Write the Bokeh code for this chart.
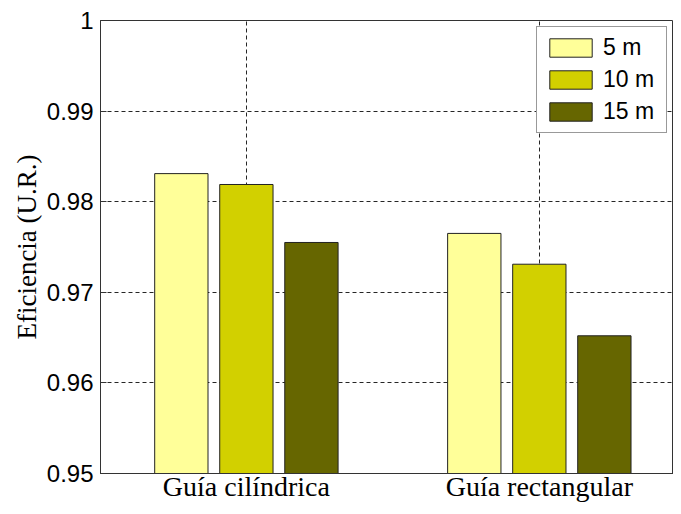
from bokeh.plotting import figure
from bokeh.models import FixedTicker, Legend, LegendItem, Range1d
from bokeh.embed import file_html
from bokeh.resources import INLINE

# ---- data ----
categories = ["Guía cilíndrica", "Guía rectangular"]
series_names = ["5 m", "10 m", "15 m"]
values_5m = [0.9831, 0.9765]
values_10m = [0.9819, 0.9731]
values_15m = [0.9755, 0.9652]
series_colors = ["#FFFF99", "#D2D000", "#666600"]
y_ticks = [0.95, 0.96, 0.97, 0.98, 0.99, 1.0]
y_tick_labels = ["0.95", "0.96", "0.97", "0.98", "0.99", "1"]

series_values = [values_5m, values_10m, values_15m]
offsets = [-0.222, 0.0, 0.222]
bar_width = 0.182
base = 0.95

p = figure(width=673, height=506, output_backend="svg", toolbar_location=None,
           x_range=Range1d(0.502, 2.458), y_range=Range1d(0.95, 1.0),
           min_border_left=100, min_border_right=0, min_border_top=20,
           min_border_bottom=33)

p.background_fill_color = "white"
p.border_fill_color = "white"
p.outline_line_color = "#333333"
p.outline_line_width = 1

cat_pos = [i + 1 for i in range(len(categories))]

renderers = []
for vals, off, col in zip(series_values, offsets, series_colors):
    xs = [c + off for c in cat_pos]
    r = p.vbar(x=xs, top=vals, bottom=base, width=bar_width,
               fill_color=col, line_color="#222222", line_width=1)
    renderers.append(r)

legend = Legend(items=[LegendItem(label=n, renderers=[r]) for n, r in zip(series_names, renderers)],
                location="top_right")
legend.margin = 6
legend.padding = 7
legend.spacing = 5
legend.glyph_width = 53
legend.glyph_height = 23
legend.label_height = 23
legend.label_width = 56
legend.label_standoff = 6
legend.label_text_font = "Liberation Sans"
legend.label_text_font_size = "23px"
legend.label_text_color = "black"
legend.border_line_color = "#333333"
legend.border_line_width = 1
legend.background_fill_alpha = 1.0
p.add_layout(legend, "center")

# y axis
p.yaxis.ticker = FixedTicker(ticks=y_ticks)
p.yaxis.major_label_overrides = {t: l for t, l in zip(y_ticks, y_tick_labels)}
p.yaxis.major_label_text_font = "Liberation Sans"
p.yaxis.major_label_text_font_size = "24px"
p.yaxis.major_label_text_color = "black"
p.yaxis.major_label_standoff = 7
p.yaxis.major_tick_in = 6
p.yaxis.major_tick_out = 0
p.yaxis.minor_tick_line_color = None
p.yaxis.axis_line_color = "#333333"
p.yaxis.major_tick_line_color = "#333333"
p.yaxis.axis_label = "Eficiencia (U.R.)"
p.yaxis.axis_label_text_font = "Liberation Serif"
p.yaxis.axis_label_text_font_size = "27px"
p.yaxis.axis_label_text_font_style = "normal"
p.yaxis.axis_label_text_color = "black"
p.yaxis.axis_label_standoff = 2

# x axis
p.xaxis.ticker = FixedTicker(ticks=cat_pos)
p.xaxis.major_label_overrides = {c: n for c, n in zip(cat_pos, categories)}
p.xaxis.major_label_text_font = "Liberation Serif"
p.xaxis.major_label_text_font_size = "28px"
p.xaxis.major_label_text_color = "black"
p.xaxis.major_label_standoff = -3
p.xaxis.major_tick_in = 0
p.xaxis.major_tick_out = 0
p.xaxis.major_tick_line_color = None
p.xaxis.minor_tick_line_color = None
p.xaxis.axis_line_color = "#333333"

# grid
p.xgrid.ticker = FixedTicker(ticks=cat_pos)
p.ygrid.ticker = FixedTicker(ticks=y_ticks)
for g in (p.xgrid, p.ygrid):
    g.grid_line_color = "black"
    g.grid_line_dash = "4 3"
    g.grid_line_alpha = 0.85
    g.grid_line_width = 1

open("out.html", "w").write(file_html(p, INLINE))
